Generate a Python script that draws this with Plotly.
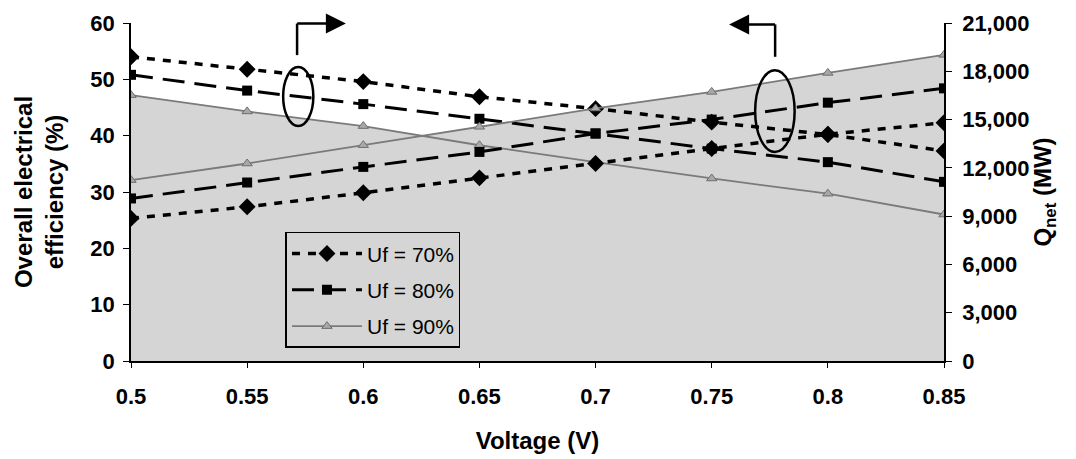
import plotly.graph_objects as go

# ---------------- data ----------------
voltage = [0.5, 0.55, 0.6, 0.65, 0.7, 0.75, 0.8, 0.85]
series_names = ["Uf = 70%", "Uf = 80%", "Uf = 90%"]
eff_uf70 = [54.0, 51.8, 49.6, 46.9, 44.8, 42.4, 40.2, 37.3]
eff_uf80 = [50.8, 48.0, 45.6, 43.0, 40.4, 37.7, 35.3, 31.8]
eff_uf90 = [47.2, 44.3, 41.7, 38.3, 35.3, 32.4, 29.7, 26.0]
q_uf70 = [8860, 9580, 10450, 11380, 12270, 13200, 14090, 14800]
q_uf80 = [10100, 11090, 12060, 12990, 14130, 15000, 16050, 16940]
q_uf90 = [11240, 12270, 13410, 14550, 15690, 16720, 17900, 19020]
y1_max, y2_max = 60, 21000
y1_ticks = [0, 10, 20, 30, 40, 50, 60]
y2_ticks = [0, 3000, 6000, 9000, 12000, 15000, 18000, 21000]
x_ticks = [0.5, 0.55, 0.6, 0.65, 0.7, 0.75, 0.8, 0.85]

FONT = "Arial, Liberation Sans, Helvetica, sans-serif"

# grey shaded region: area below the upper envelope of the two Uf=90% curves
scale = y1_max / y2_max
q90_scaled = [q * scale for q in q_uf90]
env_x, env_y = [], []
for i in range(len(voltage)):
    env_x.append(voltage[i]); env_y.append(max(eff_uf90[i], q90_scaled[i]))
    if i < len(voltage) - 1:
        d0 = eff_uf90[i] - q90_scaled[i]
        d1 = eff_uf90[i + 1] - q90_scaled[i + 1]
        if d0 * d1 < 0:
            t = d0 / (d0 - d1)
            env_x.append(voltage[i] + t * (voltage[i + 1] - voltage[i]))
            env_y.append(eff_uf90[i] + t * (eff_uf90[i + 1] - eff_uf90[i]))

fig = go.Figure()
fig.add_trace(go.Scatter(x=env_x, y=env_y, fill="tozeroy", mode="lines",
                         line=dict(width=0), fillcolor="#d5d5d5",
                         showlegend=False, hoverinfo="skip"))

styles = [
    dict(line=dict(color="black", width=3.5, dash="8px,8px"),
         marker=dict(symbol="diamond", size=13, color="black")),
    dict(line=dict(color="black", width=3, dash="22px,10px"),
         marker=dict(symbol="square", size=10, color="black")),
    dict(line=dict(color="#7a7a7a", width=1.8),
         marker=dict(symbol="triangle-up", size=9, color="#a8a8a8",
                     line=dict(color="#6e6e6e", width=1))),
]
effs = [eff_uf70, eff_uf80, eff_uf90]
qs = [q_uf70, q_uf80, q_uf90]
for k, (name, e, st) in enumerate(zip(series_names, effs, styles)):
    fig.add_trace(go.Scatter(x=voltage, y=e, name=name, mode="lines+markers",
                             yaxis="y", legendgroup=f"g{k}", **st))
for k, (name, q, st) in enumerate(zip(series_names, qs, styles)):
    fig.add_trace(go.Scatter(x=voltage, y=q, name=name, mode="lines+markers",
                             yaxis="y2", legendgroup=f"g{k}",
                             showlegend=False, **st))

tickfont = dict(family=FONT, size=22, color="black", weight="bold")
titlefont = dict(family=FONT, size=24, color="black", weight="bold")

fig.update_layout(
    width=1076, height=459,
    margin=dict(l=131, r=132, t=23, b=98),
    paper_bgcolor="white", plot_bgcolor="rgba(0,0,0,0)",
    xaxis=dict(range=[0.5, 0.85], tickvals=x_ticks,
               ticktext=[f"<b>{v:g}</b>" for v in x_ticks],
               showline=True, linecolor="black", linewidth=1.5,
               ticks="outside", ticklen=5, tickcolor="black",
               ticklabelstandoff=10, automargin=False,
               showgrid=False, zeroline=False, tickfont=tickfont,
               title=dict(text="<b>Voltage (V)</b>", font=titlefont,
                          standoff=24)),
    yaxis=dict(range=[0, y1_max], tickvals=y1_ticks,
               ticktext=[f"<b>{v}</b>" for v in y1_ticks],
               showline=True, linecolor="black", linewidth=1.5,
               ticks="outside", ticklen=6, tickcolor="black",
               ticklabelstandoff=4, automargin=False,
               showgrid=False, zeroline=False, tickfont=tickfont,
               title=dict(text="<b>Overall electrical<br>efficiency (%)</b>",
                          font=titlefont, standoff=20)),
    yaxis2=dict(range=[0, y2_max], tickvals=y2_ticks,
                ticktext=[f"<b>{v:,}</b>" for v in y2_ticks],
                overlaying="y", side="right",
                showline=True, linecolor="black", linewidth=1.5,
                ticks="outside", ticklen=6, tickcolor="black",
                ticklabelstandoff=6, automargin=False,
                showgrid=False, zeroline=False, tickfont=tickfont,
                title=dict(text="<b>Q<sub>net</sub> (MW)</b>", font=titlefont,
                           standoff=0)),
    legend=dict(x=0.19, y=0.382, xanchor="left", yanchor="top",
                bgcolor="rgba(0,0,0,0)", bordercolor="black", borderwidth=1.5,
                font=dict(family=FONT, size=21, color="black"),
                itemwidth=70, tracegroupgap=6),
    showlegend=True,
)

# ellipses and bent arrows (annotation marks)
fig.add_shape(type="circle", xref="x", yref="y", x0=0.5655, x1=0.5785,
              y0=41.7, y1=52.2, line=dict(color="black", width=2.5))
fig.add_shape(type="circle", xref="x", yref="y", x0=0.7687, x1=0.7857,
              y0=37.1, y1=51.6, line=dict(color="black", width=2.5))
fig.add_shape(type="line", xref="x", yref="y", x0=0.5715, x1=0.5715,
              y0=54.3, y1=59.9, line=dict(color="black", width=2.5))
fig.add_shape(type="line", xref="x", yref="y", x0=0.7773, x1=0.7773,
              y0=54.0, y1=59.75, line=dict(color="black", width=2.5))
fig.add_annotation(x=0.5925, y=59.9, ax=0.5709, ay=59.9, xref="x", yref="y",
                   axref="x", ayref="y", text="", showarrow=True,
                   arrowhead=2, arrowsize=1.6, arrowwidth=2.5,
                   arrowcolor="black")
fig.add_annotation(x=0.7575, y=59.75, ax=0.7779, ay=59.75, xref="x", yref="y",
                   axref="x", ayref="y", text="", showarrow=True,
                   arrowhead=2, arrowsize=1.6, arrowwidth=2.5,
                   arrowcolor="black")

fig.write_html("out.html")
